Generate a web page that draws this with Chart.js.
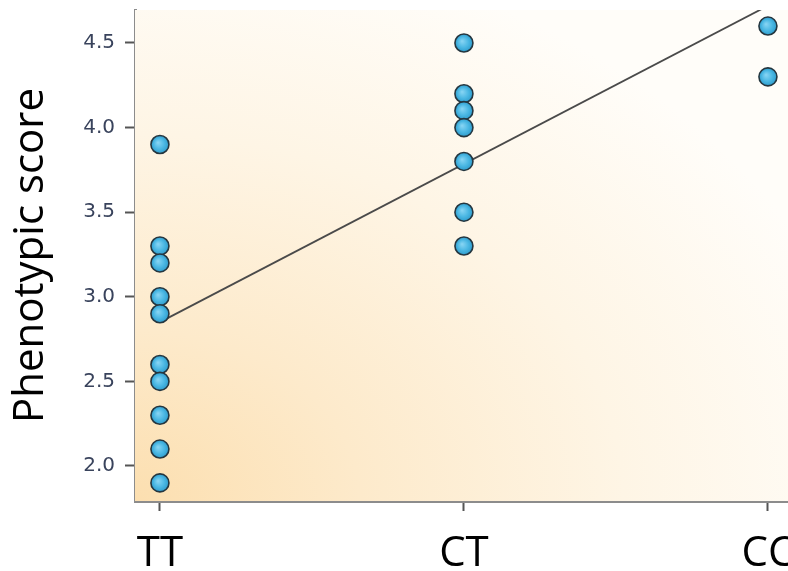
<!DOCTYPE html>
<html>
<head>
<meta charset="utf-8">
<title>Phenotypic score by genotype</title>
<script src="https://cdn.jsdelivr.net/npm/chart.js@4.4.1/dist/chart.umd.min.js"></script>
<style>
  html, body { margin: 0; padding: 0; background: #ffffff; }
  canvas { display: block; }
</style>
</head>
<body>
<canvas id="chart" width="788" height="571"></canvas>
<script>
// Genotype groups on the x axis (positions 0, 1, 2)
const genotypes = ['TT', 'CT', 'CC'];

// Phenotypic scores observed in each genotype group
const scoresTT = [3.9, 3.3, 3.2, 3.0, 2.9, 2.6, 2.5, 2.3, 2.1, 1.9];
const scoresCT = [4.5, 4.2, 4.1, 4.0, 3.8, 3.5, 3.3];
const scoresCC = [4.6, 4.3];

// Fitted trend line: score at TT and at CC
const trendEnds = [2.85, 4.72];

// Y axis tick values
const yTicks = [2.0, 2.5, 3.0, 3.5, 4.0, 4.5];

const groups = [scoresTT, scoresCT, scoresCC];
const points = [];
groups.forEach((vals, gi) => vals.forEach(v => points.push({ x: gi, y: v })));

const trend = [
  { x: 0, y: trendEnds[0] },
  { x: genotypes.length - 1, y: trendEnds[1] }
];

// Glossy blue fill for each marker, lighter toward its upper-left
function markerFill(context) {
  const chart = context.chart;
  const p = context.parsed;
  const sx = chart.scales.x, sy = chart.scales.y;
  if (!p || !sx || !sy || !isFinite(sx.getPixelForValue(p.x))) return '#4cb8e3';
  const cx = sx.getPixelForValue(p.x), cy = sy.getPixelForValue(p.y);
  const g = chart.ctx.createRadialGradient(cx - 2, cy - 2, 0, cx, cy, 9);
  g.addColorStop(0, '#8ad6f4');
  g.addColorStop(0.6, '#4ab7e3');
  g.addColorStop(1, '#2f9ccc');
  return g;
}

// Warm wash fading out from the lower-left corner of the plot area
const plotBackground = {
  id: 'plotBackground',
  beforeDatasetsDraw(chart) {
    const { ctx, chartArea: a } = chart;
    const w = a.right - a.left, h = a.bottom - a.top;
    ctx.save();
    ctx.beginPath();
    ctx.rect(a.left, a.top, w, h);
    ctx.clip();
    // stretch a circular gradient into an ellipse matching the plot's shape
    ctx.translate(a.left, a.bottom);
    ctx.scale(1, h / w);
    const g = ctx.createRadialGradient(0, 0, 0, 0, 0, w * 1.15);
    g.addColorStop(0, '#fcdfb0');
    g.addColorStop(0.3, '#fdeacb');
    g.addColorStop(0.65, '#fef5e5');
    g.addColorStop(1, '#fffdf9');
    ctx.fillStyle = g;
    ctx.fillRect(0, -w, w, w);
    ctx.restore();
  }
};

new Chart(document.getElementById('chart'), {
  type: 'scatter',
  data: {
    datasets: [
      {
        label: 'Phenotypic score',
        data: points,
        pointRadius: 9,
        pointHoverRadius: 9,
        pointBackgroundColor: markerFill,
        pointBorderColor: '#25363f',
        pointBorderWidth: 1.6
      },
      {
        type: 'line',
        label: 'Trend',
        data: trend,
        borderColor: '#4a4a4a',
        borderWidth: 1.8,
        pointRadius: 0,
        fill: false
      }
    ]
  },
  options: {
    responsive: false,
    animation: false,
    layout: { autoPadding: false, padding: { top: 10, left: 0, right: 0, bottom: 0 } },
    plugins: {
      legend: { display: false },
      tooltip: { enabled: false }
    },
    scales: {
      x: {
        type: 'linear',
        min: -0.082,
        max: 2.066,
        afterBuildTicks(scale) {
          scale.ticks = genotypes.map((_, i) => ({ value: i }));
        },
        afterFit(scale) {
          scale.height = 70;
          scale.paddingLeft = 0;
          scale.paddingRight = 0;
        },
        ticks: {
          callback: (v) => genotypes[v] ?? '',
          color: '#000000',
          font: { family: "'Open Sans', 'Liberation Sans', sans-serif", size: 42 },
          padding: 18,
          maxRotation: 0,
          autoSkip: false
        },
        grid: {
          drawOnChartArea: false,
          drawTicks: true,
          tickLength: 10,
          tickColor: '#555555',
          tickWidth: 2
        },
        border: { display: true, color: '#8c8c8c', width: 3 }
      },
      y: {
        type: 'linear',
        min: 1.793,
        max: 4.695,
        afterBuildTicks(scale) {
          scale.ticks = yTicks.map(v => ({ value: v }));
        },
        afterFit(scale) {
          scale.width = 135;
          scale.paddingTop = 0;
          scale.paddingBottom = 0;
        },
        ticks: {
          callback: (v) => Number(v).toFixed(1),
          color: '#39435c',
          font: { family: "'DejaVu Sans', Verdana, sans-serif", size: 20 },
          padding: 10
        },
        grid: {
          drawOnChartArea: false,
          drawTicks: true,
          tickLength: 10,
          tickColor: '#555555',
          tickWidth: 2
        },
        border: { display: true, color: '#8c8c8c', width: 3 },
        title: {
          display: true,
          text: 'Phenotypic score',
          color: '#000000',
          font: { family: "'Open Sans', 'Liberation Sans', sans-serif", size: 42 },
          padding: { top: 6, bottom: 0 }
        }
      }
    }
  },
  plugins: [plotBackground]
});
</script>
</body>
</html>
